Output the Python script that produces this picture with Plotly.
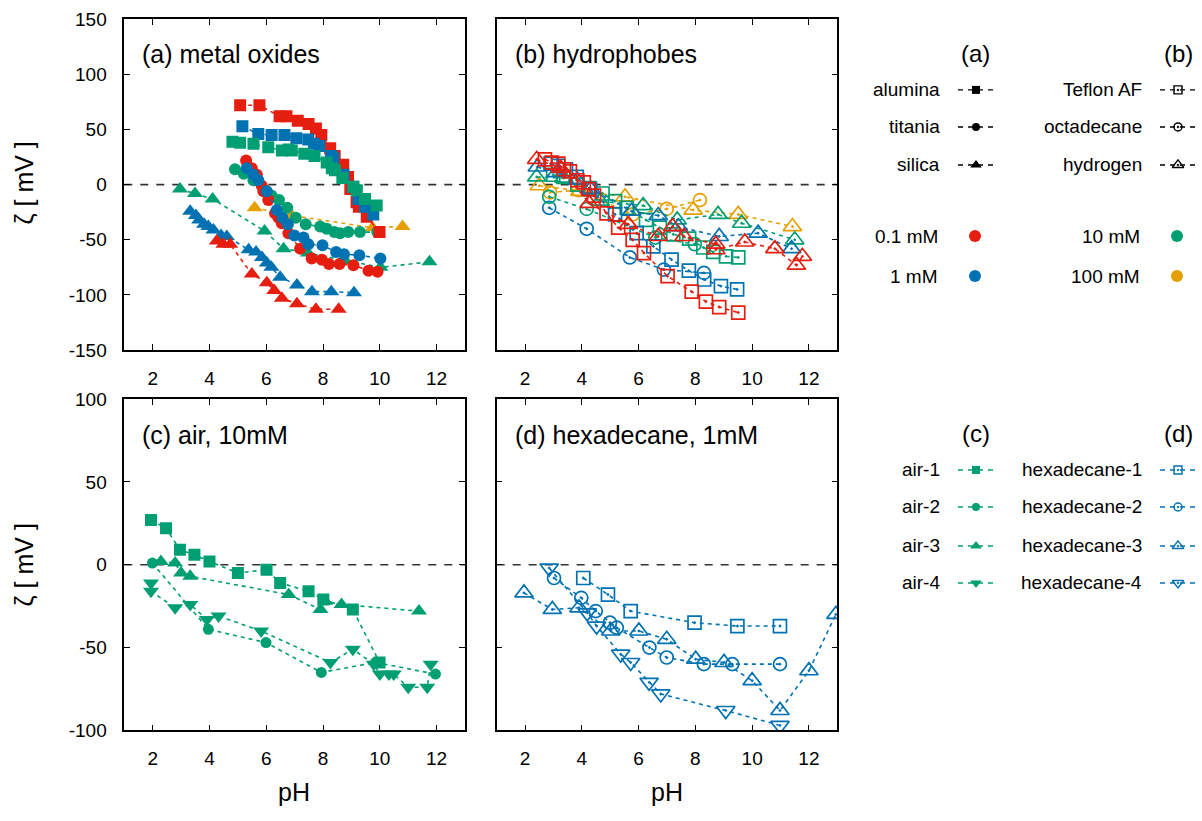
import plotly.graph_objects as go

RED = "#e51e10"; BLUE = "#0072b2"; GREEN = "#009e73"; ORANGE = "#e69f00"
FONT = "Liberation Sans, Arial, sans-serif"

# ---------------- Panel (a): metal oxides ----------------
alumina_01_ph = [5.08, 5.76, 6.47, 6.71, 7.11, 7.49, 7.75, 7.94, 8.25, 8.41, 8.71, 8.88, 8.96, 9.18, 9.26, 9.54, 9.99]
alumina_01_z = [72, 72, 62, 62, 58, 55, 51, 45, 33, 26, 18, 7, -4, -16, -20, -29, -43]
alumina_1_ph = [5.16, 5.72, 6.19, 6.64, 7.06, 7.48, 7.68, 7.87, 8.28, 8.36, 8.72, 9.06, 9.25, 9.48, 9.77]
alumina_1_z = [53, 46, 45, 45, 42, 41, 37, 35, 26, 24, 9, -2, -13, -20, -27]
alumina_10_ph = [4.81, 5.08, 5.55, 6.07, 6.55, 6.78, 6.90, 7.34, 7.70, 8.13, 8.31, 8.42, 8.68, 9.07, 9.19, 9.48, 9.89]
alumina_10_z = [39, 38, 37, 34, 31, 32, 31, 28, 26, 20, 15, 13, 6, -2, -5, -13, -19]

titania_01_ph = [5.29, 5.49, 5.67, 5.84, 5.90, 6.07, 6.31, 6.43, 6.55, 6.78, 7.19, 7.60, 7.96, 8.21, 8.58, 9.07, 9.60, 9.92]
titania_01_z = [22, 15, 9, -1, -6, -14, -26, -30, -35, -44, -58, -67, -68, -72, -72, -73, -78, -79]
titania_1_ph = [5.31, 5.55, 5.72, 6.02, 6.37, 6.57, 6.76, 6.99, 7.31, 7.48, 7.98, 8.46, 8.74, 9.28, 10.02]
titania_1_z = [15, 9, 4, -6, -23, -30, -36, -46, -48, -54, -55, -61, -63, -64, -67]
titania_10_ph = [4.90, 5.21, 5.55, 5.93, 6.19, 6.45, 6.74, 7.04, 7.39, 7.90, 8.13, 8.40, 8.60, 8.89, 9.30, 9.91]
titania_10_z = [14, 10, 4, -5, -10, -14, -21, -30, -36, -38, -40, -43, -44, -43, -43, -43]

silica_01_ph = [4.26, 4.49, 4.73, 5.49, 6.02, 6.28, 6.55, 7.08, 7.75, 8.55]
silica_01_z = [-51, -54, -54, -81, -89, -96, -103, -108, -113, -113]
silica_1_ph = [3.32, 3.52, 3.64, 3.81, 3.96, 4.14, 4.41, 4.61, 5.38, 5.64, 5.85, 6.02, 6.18, 6.49, 7.08, 7.61, 8.29, 9.09]
silica_1_z = [-24, -28, -32, -36, -38, -41, -46, -47, -59, -61, -66, -71, -75, -84, -91, -97, -97, -98]
silica_10_ph = [2.96, 3.49, 4.11, 5.94, 6.61, 7.47, 8.79, 10.02, 11.75]
silica_10_z = [-4, -8, -13, -42, -58, -62, -69, -75, -70]
silica_100_ph = [5.59, 6.90, 9.74, 10.80]
silica_100_z = [-21, -28, -39, -38]

# ---------------- Panel (b): hydrophobes ----------------
teflon_01_ph = [2.70, 2.94, 3.17, 3.37, 3.58, 3.84, 4.07, 4.23, 4.43, 4.87, 5.28, 5.79, 6.19, 7.02, 7.87, 8.37, 8.84, 9.51]
teflon_01_z = [23, 20, 19, 14, 12, 4, 2, -4, -10, -26, -39, -50, -62, -83, -97, -106, -111, -116]
teflon_1_ph = [2.90, 3.17, 3.44, 3.82, 4.29, 5.17, 5.93, 6.52, 7.16, 7.77, 8.31, 8.90, 9.47]
teflon_1_z = [19, 17, 14, 7, -4, -27, -44, -56, -68, -78, -86, -92, -95]
teflon_10_ph = [2.99, 3.35, 3.84, 4.26, 4.73, 5.17, 5.58, 6.26, 6.75, 7.22, 7.78, 8.28, 8.63, 9.08, 9.51]
teflon_10_z = [9, 7, 0, -3, -8, -15, -21, -32, -39, -45, -49, -57, -61, -65, -66]

octa_1_ph = [2.85, 4.17, 5.69, 6.89, 8.30]
octa_1_z = [-21, -40, -66, -77, -80]
octa_10_ph = [2.85, 4.17, 6.59, 7.98]
octa_10_z = [-11, -22, -48, -54]
octa_100_ph = [2.88, 3.88, 5.79, 6.99, 8.16]
octa_100_z = [-7, -5, -27, -22, -14]

hydro_01_ph = [2.41, 3.25, 4.26, 5.64, 6.69, 7.20, 7.60, 8.72, 8.72, 9.74, 10.80, 11.56, 11.77]
hydro_01_z = [23, 15, -17, -36, -47, -38, -47, -54, -59, -52, -58, -73, -65]
hydro_1_ph = [2.43, 3.11, 3.84, 4.31, 5.75, 6.69, 7.40, 8.84, 10.21, 11.39]
hydro_1_z = [16, 11, 4, -4, -24, -28, -38, -47, -44, -58]
hydro_10_ph = [2.41, 3.37, 4.64, 6.16, 7.36, 8.80, 9.63, 11.50]
hydro_10_z = [7, 6, -15, -19, -32, -27, -35, -50]
hydro_100_ph = [2.50, 3.93, 5.52, 7.92, 9.51, 11.42]
hydro_100_z = [-1, -6, -11, -23, -27, -38]

# ---------------- Panel (c): air, 10 mM ----------------
air1_ph = [1.94, 2.47, 2.96, 3.47, 4.00, 5.00, 6.01, 6.49, 7.49, 8.01, 9.05, 9.99]
air1_z = [27, 22, 9, 6, 2, -5, -3, -11, -16, -21, -27, -59]
air2_ph = [1.99, 3.96, 5.99, 7.94, 9.85, 11.96]
air2_z = [1, -39, -47, -65, -59, -66]
air3_ph = [2.29, 2.79, 3.00, 3.32, 6.79, 7.91, 8.08, 8.65, 11.38]
air3_z = [2, 1, -5, -7, -18, -27, -22, -24, -28]
air4_ph = [1.94, 1.94, 2.79, 3.32, 3.91, 4.32, 5.82, 8.26, 9.05, 9.79, 10.00, 10.32, 10.49, 11.00, 11.67, 11.79]
air4_z = [-11, -16, -26, -24, -33, -31, -40, -59, -51, -60, -66, -66, -66, -74, -74, -60]

# ---------------- Panel (d): hexadecane, 1 mM ----------------
hex1_ph = [4.05, 4.92, 5.72, 7.97, 9.48, 10.98]
hex1_z = [-8, -18, -28, -35, -37, -37]
hex2_ph = [3.02, 3.98, 4.49, 4.99, 5.23, 6.38, 6.99, 8.30, 9.30, 10.98]
hex2_z = [-8, -20, -28, -35, -38, -50, -56, -60, -60, -60]
hex3_ph = [1.96, 2.96, 3.90, 5.02, 6.01, 6.99, 8.01, 9.01, 10.00, 10.98, 12.00, 12.95]
hex3_z = [-17, -27, -26, -40, -40, -45, -57, -59, -70, -88, -64, -30]
hex4_ph = [2.85, 4.19, 4.52, 5.37, 5.72, 6.37, 6.78, 9.07, 10.98]
hex4_z = [-2, -29, -37, -54, -59, -71, -78, -88, -97]

ph_ticks = [2, 4, 6, 8, 10, 12]
zeta_ticks_top = [-150, -100, -50, 0, 50, 100, 150]
zeta_ticks_bot = [-100, -50, 0, 50, 100]

fig = go.Figure()

def series(x, y, color, symbol, size, xa, ya, open_=False):
    mk = dict(symbol=symbol, size=size, color=color)
    if open_:
        mk["line"] = dict(color=color, width=1.7)
    else:
        mk["line"] = dict(width=0)
    fig.add_trace(go.Scatter(x=x, y=y, mode="lines+markers", xaxis=xa, yaxis=ya,
                             line=dict(color=color, width=1.6, dash="4px,4px"),
                             marker=mk, showlegend=False, hoverinfo="skip"))

SQ, CI, TR = 12, 12, 14
OSQ, OCI, OTR = 13, 13, 16

# panel a
series(silica_10_ph, silica_10_z, GREEN, "triangle-up", TR, "x", "y")
series(silica_1_ph, silica_1_z, BLUE, "triangle-up", TR, "x", "y")
series(silica_01_ph, silica_01_z, RED, "triangle-up", TR, "x", "y")
series(silica_100_ph, silica_100_z, ORANGE, "triangle-up", TR, "x", "y")
series(titania_10_ph, titania_10_z, GREEN, "circle", CI, "x", "y")
series(titania_01_ph, titania_01_z, RED, "circle", CI, "x", "y")
series(titania_1_ph, titania_1_z, BLUE, "circle", CI, "x", "y")
series(alumina_01_ph, alumina_01_z, RED, "square", SQ, "x", "y")
series(alumina_1_ph, alumina_1_z, BLUE, "square", SQ, "x", "y")
series(alumina_10_ph, alumina_10_z, GREEN, "square", SQ, "x", "y")

# panel b
series(octa_100_ph, octa_100_z, ORANGE, "circle-open-dot", OCI, "x2", "y2", True)
series(hydro_100_ph, hydro_100_z, ORANGE, "triangle-up-open-dot", OTR, "x2", "y2", True)
series(octa_1_ph, octa_1_z, BLUE, "circle-open-dot", OCI, "x2", "y2", True)
series(octa_10_ph, octa_10_z, GREEN, "circle-open-dot", OCI, "x2", "y2", True)
series(teflon_10_ph, teflon_10_z, GREEN, "square-open-dot", OSQ, "x2", "y2", True)
series(hydro_10_ph, hydro_10_z, GREEN, "triangle-up-open-dot", OTR, "x2", "y2", True)
series(teflon_1_ph, teflon_1_z, BLUE, "square-open-dot", OSQ, "x2", "y2", True)
series(hydro_1_ph, hydro_1_z, BLUE, "triangle-up-open-dot", OTR, "x2", "y2", True)
series(teflon_01_ph, teflon_01_z, RED, "square-open-dot", OSQ, "x2", "y2", True)
series(hydro_01_ph, hydro_01_z, RED, "triangle-up-open-dot", OTR, "x2", "y2", True)

# panel c
series(air1_ph, air1_z, GREEN, "square", SQ, "x3", "y3")
series(air2_ph, air2_z, GREEN, "circle", 11, "x3", "y3")
series(air3_ph, air3_z, GREEN, "triangle-up", TR, "x3", "y3")
series(air4_ph, air4_z, GREEN, "triangle-down", TR, "x3", "y3")

# panel d
series(hex1_ph, hex1_z, BLUE, "square-open-dot", OSQ, "x4", "y4", True)
series(hex2_ph, hex2_z, BLUE, "circle-open-dot", OCI, "x4", "y4", True)
series(hex3_ph, hex3_z, BLUE, "triangle-up-open-dot", OTR, "x4", "y4", True)
series(hex4_ph, hex4_z, BLUE, "triangle-down-open-dot", OTR, "x4", "y4", True)

# ---------------- Axes ----------------
W = 1202
H = 821

def py(yref):
    return 1 - yref / H

colL = [124.3 / W, 465.0 / W]
colR = [496.7 / W, 837.3 / W]
rowT = [py(349.0), py(9.5)]
rowB = [py(739.3), py(399.3)]

axcommon = dict(showline=True, linecolor="black", linewidth=1.5, mirror="ticks",
                ticks="inside", ticklen=6, tickwidth=1, tickcolor="black",
                showgrid=False, zeroline=False,
                tickfont=dict(family=FONT, size=19, color="black"))

def xax(domain, anchor):
    return dict(axcommon, domain=domain, anchor=anchor, range=[1, 13],
                tickvals=ph_ticks, ticktext=[str(v) for v in ph_ticks], ticklabelstandoff=10)

def yax(domain, anchor, rng, tv, labels):
    return dict(axcommon, domain=domain, anchor=anchor, range=rng, tickvals=tv,
                ticktext=[str(v) for v in tv],
                showticklabels=labels, ticklabelstandoff=12)

fig.update_layout(
    width=W, height=H, margin=dict(l=0, r=0, t=0, b=0), autosize=False,
    paper_bgcolor="white", plot_bgcolor="white",
    font=dict(family=FONT, color="black"),
    xaxis=xax(colL, "y"), yaxis=yax(rowT, "x", [-150, 150], zeta_ticks_top, True),
    xaxis2=xax(colR, "y2"), yaxis2=yax(rowT, "x2", [-150, 150], zeta_ticks_top, False),
    xaxis3=xax(colL, "y3"), yaxis3=yax(rowB, "x3", [-100, 100], zeta_ticks_bot, True),
    xaxis4=xax(colR, "y4"), yaxis4=yax(rowB, "x4", [-100, 100], zeta_ticks_bot, False),
    xaxis5=dict(domain=[841.0 / W, 1.0], range=[841, W], visible=False, anchor="y5", fixedrange=True),
    yaxis5=dict(domain=[0, 1], range=[H, 0], visible=False, anchor="x5", fixedrange=True),
)

# zero lines
for xa, ya in [("x", "y"), ("x2", "y2"), ("x3", "y3"), ("x4", "y4")]:
    fig.add_shape(type="line", xref=xa + " domain", yref=ya, x0=0, x1=1, y0=0, y1=0,
                  line=dict(color="#333333", width=1.6, dash="8px,8px"), layer="below")

ann = []
def text(x, y, s, size, xanchor="left", xref="paper", yref="paper", angle=0):
    ann.append(dict(x=x, y=y, xref=xref, yref=yref, text=s, showarrow=False,
                    xanchor=xanchor, yanchor="middle", textangle=angle,
                    font=dict(family=FONT, size=size, color="black")))

# panel titles
text(140 / W, py(45), "(a) metal oxides", 25)
text(513 / W, py(45), "(b) hydrophobes", 25)
text(140 / W, py(436), "(c) air, 10mM", 25)
text(513 / W, py(436), "(d) hexadecane, 1mM", 25)
# axis titles
text(24 / W, py(178), "ζ [ mV ]", 25, "center", angle=-90)
text(24 / W, py(570), "ζ [ mV ]", 25, "center", angle=-90)
text(294 / W, py(803), "pH", 25, "center")
text(667 / W, py(803), "pH", 25, "center")

# ---------------- Legends (drawn on hidden pixel axis) ----------------
def leg_item(xm, y, label, color, symbol, size, open_=False, line=True, xtext=None):
    if line:
        fig.add_trace(go.Scatter(x=[xm - 18, xm + 18], y=[y, y], mode="lines", xaxis="x5", yaxis="y5",
                                 line=dict(color=color, width=1.4, dash="5px,5px"),
                                 showlegend=False, hoverinfo="skip"))
    mk = dict(symbol=symbol, size=size, color=color,
              line=dict(color=color, width=1.4 if open_ else 0))
    fig.add_trace(go.Scatter(x=[xm], y=[y], mode="markers", xaxis="x5", yaxis="y5",
                             marker=mk, showlegend=False, hoverinfo="skip"))
    text(xtext if xtext is not None else xm - 34, y, label, 19, "right", "x5", "y5")

text(975, 45, "(a)", 24, "center", "x5", "y5")
text(1178, 45, "(b)", 24, "center", "x5", "y5")
text(976, 435, "(c)", 24, "center", "x5", "y5")
text(1178, 435, "(d)", 24, "center", "x5", "y5")

leg_item(976, 82, "alumina", "black", "square", 8)
leg_item(976, 120, "titania", "black", "circle", 8)
leg_item(976, 159, "silica", "black", "triangle-up", 10)
leg_item(1178, 82, "Teflon AF", "black", "square-open-dot", 8, True)
leg_item(1178, 120, "octadecane", "black", "circle-open-dot", 8, True)
leg_item(1178, 159, "hydrogen", "black", "triangle-up-open-dot", 10, True)

leg_item(975, 232, "0.1 mM", RED, "circle", 12, line=False, xtext=940)
leg_item(975, 273, "1 mM", BLUE, "circle", 12, line=False, xtext=940)
leg_item(1177, 232, "10 mM", GREEN, "circle", 12, line=False, xtext=1142)
leg_item(1177, 273, "100 mM", ORANGE, "circle", 12, line=False, xtext=1142)

leg_item(976, 472, "air-1", GREEN, "square", 8)
leg_item(976, 510, "air-2", GREEN, "circle", 8)
leg_item(976, 550, "air-3", GREEN, "triangle-up", 10)
leg_item(976, 588, "air-4", GREEN, "triangle-down", 10)
leg_item(1178, 472, "hexadecane-1", BLUE, "square-open-dot", 8, True)
leg_item(1178, 510, "hexadecane-2", BLUE, "circle-open-dot", 8, True)
leg_item(1178, 550, "hexadecane-3", BLUE, "triangle-up-open-dot", 10, True)
leg_item(1178, 588, "hexadecane-4", BLUE, "triangle-down-open-dot", 10, True)

fig.update_layout(annotations=ann)
fig.write_html("out.html", config={"displayModeBar": False},
               post_script="document.body.style.margin='0';document.body.style.padding='0';"
                           "document.body.style.overflow='hidden';"
                           "var d=document.getElementById('{plot_id}');"
                           "d.style.position='fixed';d.style.top='0px';d.style.left='0px';")
